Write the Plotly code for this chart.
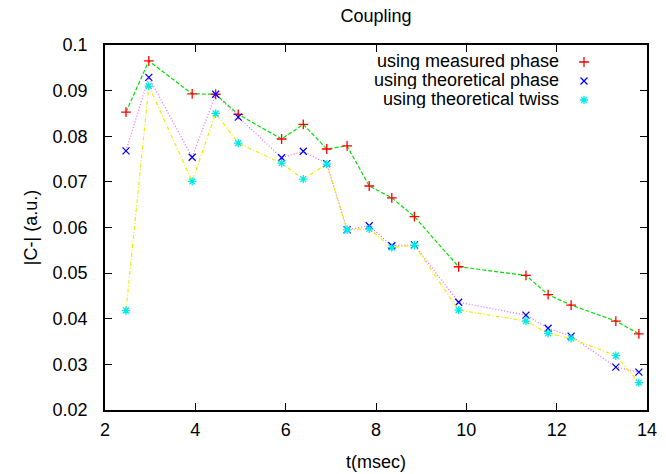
import plotly.graph_objects as go

# ---- data ----
t_msec = [2.465, 2.97, 3.93, 4.45, 4.95, 5.91, 6.39, 6.91, 7.36, 7.85, 8.35, 8.85,
          9.83, 11.32, 11.81, 12.32, 13.31, 13.82]
measured_phase = [0.0853, 0.0965, 0.0893, 0.0892, 0.0848, 0.0794, 0.0826, 0.0772,
                  0.0779, 0.0691, 0.0665, 0.0624, 0.0514, 0.0495, 0.0453, 0.0430,
                  0.0395, 0.0367]
theoretical_phase = [0.0768, 0.0929, 0.0754, 0.0892, 0.0842, 0.0753, 0.0767, 0.0740,
                     0.0595, 0.0604, 0.0560, 0.0562, 0.0436, 0.0408, 0.0379, 0.0362,
                     0.0294, 0.0283]
theoretical_twiss = [0.0418, 0.0910, 0.0701, 0.0850, 0.0785, 0.0741, 0.0706, 0.0739,
                     0.0595, 0.0597, 0.0556, 0.0561, 0.0419, 0.0395, 0.0368, 0.0357,
                     0.0319, 0.0260]
series_names = ["using measured phase", "using theoretical phase", "using theoretical twiss"]
x_ticks = [2, 4, 6, 8, 10, 12, 14]
y_ticks = [0.02, 0.03, 0.04, 0.05, 0.06, 0.07, 0.08, 0.09, 0.1]
y_ticktext = ["0.02", "0.03", "0.04", "0.05", "0.06", "0.07", "0.08", "0.09", "0.1"]

FONT = "Liberation Sans, Arial, sans-serif"
FS = 18

styles = [
    dict(line_color="#00e000", dash="4px,2px", mcolor="#ff0000", symbol="cross-thin", msize=7),
    dict(line_color="#ff5cff", dash="1px,2px", mcolor="#0000ff", symbol="x-thin", msize=7),
    dict(line_color="#eeee00", dash="4px,2px,1px,2px", mcolor="#00e8e8", symbol="asterisk-open", msize=7),
]
ys = [measured_phase, theoretical_phase, theoretical_twiss]

fig = go.Figure()
for y, st in zip(ys, styles):
    fig.add_trace(go.Scatter(x=t_msec, y=y, mode="lines", showlegend=False,
                             line=dict(color=st["line_color"], width=1.2, dash=st["dash"]),
                             hoverinfo="skip"))
    fig.add_trace(go.Scatter(x=t_msec, y=y, mode="markers", name=" ",
                             marker=dict(symbol=st["symbol"], size=st["msize"],
                                         color=st["mcolor"],
                                         line=dict(color=st["mcolor"], width=1.3))))

# plot area in pixels: x 105..647, y 45..410
L, R, T, B = 105, 19, 45, 64
W, H = 666, 474
pw, ph = W - L - R, H - T - B

def px_x(p):
    return (p - L) / pw

def px_y(p):
    return 1 - (p - T) / ph

# legend text (right aligned), markers come from the plotly legend
legend_rows = [60.7, 79.7, 98.5]
for name, yy in zip(series_names, legend_rows):
    fig.add_annotation(text=name, x=px_x(561), y=px_y(yy), xref="paper", yref="paper",
                       xanchor="right", yanchor="middle", showarrow=False,
                       height=19, valign="middle",
                       font=dict(family=FONT, size=FS, color="black"))

axis_common = dict(showline=True, linecolor="black", linewidth=1.5, mirror="allticks",
                   ticks="inside", ticklen=7, tickwidth=1, tickcolor="black",
                   showgrid=False, zeroline=False, automargin=False,
                   tickfont=dict(family=FONT, size=FS, color="black"))

fig.update_layout(
    width=W, height=H,
    margin=dict(l=L, r=R, t=T, b=B, pad=0, autoexpand=False),
    paper_bgcolor="white", plot_bgcolor="white",
    font=dict(family=FONT, size=FS, color="black"),
    title=dict(text="Coupling", x=px_x(376), xref="paper", xanchor="center",
               y=1 - 16 / H, yref="container", yanchor="middle",
               font=dict(family=FONT, size=FS, color="black")),
    xaxis=dict(range=[2, 14], tickvals=x_ticks, ticklabelstandoff=3,
               title=dict(text="t(msec)", standoff=16,
                          font=dict(family=FONT, size=FS, color="black")), **axis_common),
    yaxis=dict(range=[0.02, 0.1], tickvals=y_ticks, ticktext=y_ticktext,
               ticklabelstandoff=12,
               title=dict(text="|C-| (a.u.)", standoff=10,
                          font=dict(family=FONT, size=FS, color="black")), **axis_common),
    legend=dict(x=px_x(564), y=px_y(47.5), xanchor="left", yanchor="top",
                bgcolor="rgba(0,0,0,0)", font=dict(size=12), tracegroupgap=0,
                itemwidth=30),
    showlegend=True,
)

fig.write_html("out.html")
